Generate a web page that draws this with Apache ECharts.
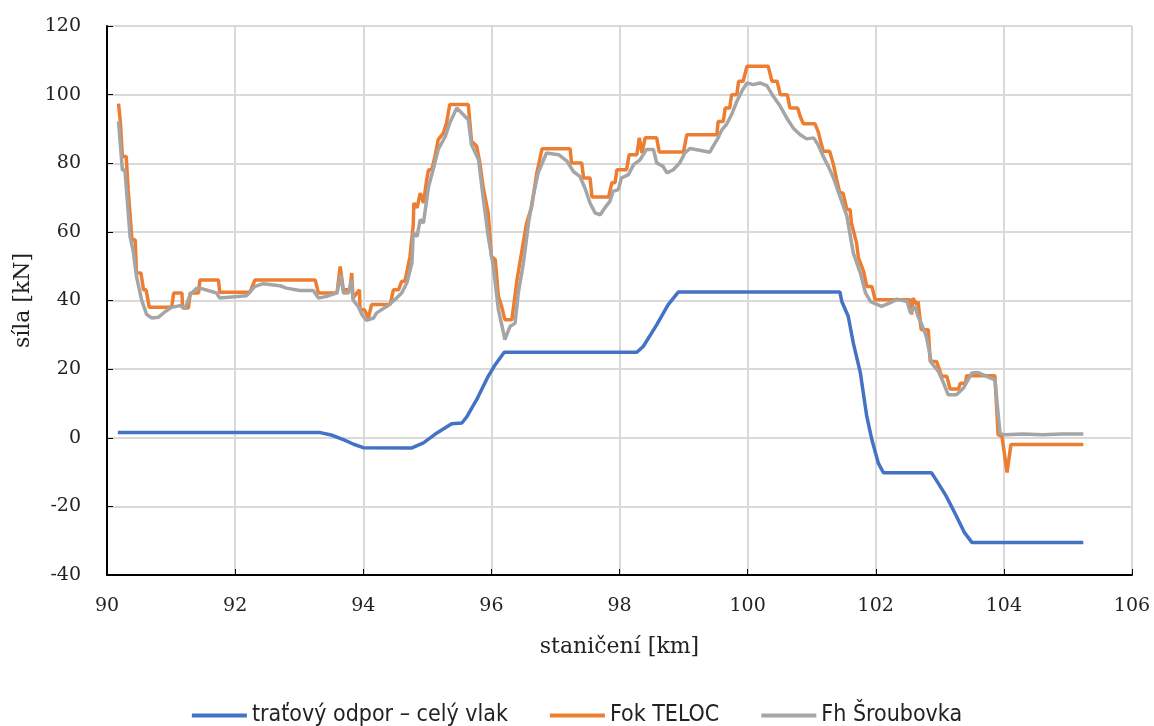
<!DOCTYPE html>
<html>
<head>
<meta charset="utf-8">
<script src="https://cdn.jsdelivr.net/npm/echarts@6/dist/echarts.min.js"></script>
<style>
html,body{margin:0;padding:0;background:#fff;}
#chart{width:1154px;height:726px;}
</style>
</head>
<body>
<div id="chart"></div>
<script>
const seriesNames = ['traťový odpor – celý vlak', 'Fok TELOC', 'Fh Šroubovka'];
const xTicks = { min: 90, max: 106, interval: 2 };
const yTicks = { min: -40, max: 120, interval: 20 };

const odporX = [90.17, 93.33, 93.5, 93.7, 93.85, 94.0, 94.75, 94.94, 95.15, 95.38, 95.54, 95.62, 95.77, 95.95, 96.06, 96.2, 98.27, 98.37, 98.58, 98.76, 98.92, 101.44, 101.47, 101.57, 101.65, 101.76, 101.86, 101.94, 102.04, 102.12, 102.87, 102.95, 103.1, 103.25, 103.38, 103.5, 105.24];
const odporY = [1.5, 1.5, 0.8, -0.6, -1.9, -2.9, -3.0, -1.5, 1.4, 4.1, 4.3, 6.2, 11.1, 17.9, 21.3, 24.9, 24.9, 26.6, 32.9, 38.8, 42.5, 42.5, 39.7, 35.4, 27.6, 18.9, 6.2, -0.6, -7.4, -10.2, -10.2, -12.5, -17, -22.5, -27.5, -30.5, -30.5];

const fokX = [90.18, 90.21, 90.24, 90.30, 90.33, 90.39, 90.44, 90.46, 90.53, 90.57, 90.61, 90.66, 91.01, 91.04, 91.17, 91.18, 91.27, 91.30, 91.43, 91.45, 91.74, 91.76, 92.23, 92.31, 93.25, 93.30, 93.59, 93.64, 93.69, 93.79, 93.82, 93.84, 93.90, 93.94, 93.95, 94.02, 94.08, 94.13, 94.42, 94.47, 94.55, 94.60, 94.65, 94.73, 94.78, 94.79, 94.84, 94.89, 94.94, 94.99, 95.02, 95.07, 95.12, 95.17, 95.25, 95.30, 95.35, 95.64, 95.69, 95.77, 95.82, 95.87, 95.95, 96.0, 96.06, 96.11, 96.16, 96.21, 96.32, 96.40, 96.47, 96.55, 96.63, 96.71, 96.79, 97.23, 97.25, 97.41, 97.44, 97.54, 97.57, 97.83, 97.88, 97.93, 97.96, 98.11, 98.15, 98.27, 98.31, 98.35, 98.40, 98.58, 98.62, 99.0, 99.05, 99.52, 99.54, 99.62, 99.65, 99.72, 99.75, 99.83, 99.86, 99.93, 99.99, 100.32, 100.38, 100.46, 100.51, 100.62, 100.66, 100.78, 100.82, 100.87, 101.05, 101.10, 101.18, 101.28, 101.34, 101.39, 101.44, 101.49, 101.55, 101.60, 101.62, 101.70, 101.73, 101.81, 101.86, 101.94, 101.99, 102.53, 102.56, 102.58, 102.64, 102.66, 102.71, 102.82, 102.85, 102.95, 103.03, 103.11, 103.16, 103.29, 103.32, 103.40, 103.42, 103.86, 103.91, 103.97, 104.05, 104.11, 105.24];
const fokY = [97.4, 91.7, 82, 82, 72.3, 57.7, 57.7, 48, 48, 43.1, 43.1, 38, 38, 42.2, 42.2, 37.8, 37.8, 42.2, 42.2, 46, 46, 42.4, 42.4, 46, 46, 42.2, 42.2, 49.9, 43.1, 43.1, 48, 40.7, 42.2, 43.1, 37.3, 37.3, 34.9, 38.8, 38.8, 43.1, 43.1, 45.6, 45.6, 52.9, 62, 68.4, 67, 71.3, 68.4, 75.2, 78.1, 78.1, 82, 86.9, 88.8, 91.7, 97.1, 97.1, 86.4, 85, 80.1, 73.3, 65.5, 52.9, 51.9, 41.2, 38.3, 34.4, 34.4, 46, 53.8, 62.6, 67.4, 77.2, 84.2, 84.2, 80.1, 80.1, 75.7, 75.7, 70.2, 70.2, 74.3, 74.3, 78.1, 78.1, 82.5, 82.5, 87.4, 83, 87.4, 87.4, 83.3, 83.3, 88.3, 88.3, 92.2, 92.2, 96.1, 96.1, 100, 100, 103.9, 103.9, 108.3, 108.3, 103.9, 103.9, 100, 100, 96.1, 96.1, 93.7, 91.5, 91.5, 89.3, 83.5, 83.5, 79.6, 75.2, 71.3, 71.3, 66.5, 66.5, 62.6, 56.8, 52.4, 48.5, 44.1, 44.1, 40.2, 40.2, 35.9, 40.7, 38.8, 39.7, 31.5, 31.5, 22.2, 22.2, 17.9, 17.9, 14.2, 14.2, 15.9, 15.9, 18.1, 18.1, 0.9, 0.4, -10.1, -2.0, -2.0];

const fhX = [90.18, 90.24, 90.28, 90.36, 90.41, 90.46, 90.54, 90.62, 90.70, 90.80, 90.91, 91.01, 91.14, 91.22, 91.30, 91.40, 91.45, 91.71, 91.76, 92.18, 92.31, 92.44, 92.70, 92.80, 93.01, 93.22, 93.30, 93.43, 93.59, 93.65, 93.69, 93.77, 93.82, 93.84, 93.92, 93.98, 94.05, 94.16, 94.21, 94.37, 94.52, 94.60, 94.68, 94.76, 94.78, 94.84, 94.89, 94.94, 95.02, 95.09, 95.17, 95.28, 95.35, 95.46, 95.54, 95.64, 95.69, 95.80, 95.87, 95.95, 96.03, 96.11, 96.19, 96.21, 96.29, 96.37, 96.42, 96.50, 96.58, 96.65, 96.73, 96.86, 97.05, 97.18, 97.28, 97.38, 97.46, 97.54, 97.62, 97.70, 97.77, 97.85, 97.90, 97.98, 98.03, 98.14, 98.22, 98.32, 98.42, 98.53, 98.58, 98.68, 98.74, 98.84, 98.94, 99.02, 99.10, 99.25, 99.41, 99.46, 99.54, 99.60, 99.67, 99.75, 99.83, 99.91, 99.99, 100.09, 100.19, 100.30, 100.40, 100.51, 100.61, 100.71, 100.82, 100.92, 101.03, 101.10, 101.18, 101.26, 101.34, 101.44, 101.55, 101.65, 101.76, 101.84, 101.92, 102.09, 102.22, 102.33, 102.49, 102.54, 102.61, 102.66, 102.71, 102.79, 102.87, 102.98, 103.06, 103.13, 103.26, 103.37, 103.50, 103.60, 103.73, 103.86, 103.89, 103.94, 104.01, 104.3, 104.6, 104.9, 105.24];
const fhY = [92.2, 78, 78, 58.7, 54.3, 47, 40.2, 35.9, 34.9, 35.1, 36.8, 38, 38.5, 37.8, 41.7, 43.6, 43.6, 42.2, 40.7, 41.4, 44.1, 44.9, 44.3, 43.6, 42.9, 42.9, 40.7, 41.2, 42.2, 47.5, 42.2, 42.2, 46, 40.2, 38.3, 35.9, 34.2, 34.9, 36.4, 38.3, 40.7, 42.2, 45.1, 50.9, 59.7, 58.7, 63.6, 62.6, 73.3, 78.1, 84, 87.8, 91.7, 96.1, 94.6, 92.7, 85.4, 81, 70.3, 58.7, 49.9, 37.3, 30.5, 28.6, 32.4, 33.4, 42.2, 50.9, 62.6, 70.3, 77.2, 83, 82.5, 80.6, 77.6, 76.2, 72.8, 68.4, 65.5, 65, 67, 68.9, 71.8, 72.3, 75.7, 76.7, 79.6, 81, 84, 84, 80.1, 79.1, 77.2, 78.1, 80.1, 83, 84.3, 83.8, 83.2, 84.9, 87.4, 89.8, 91.3, 94.2, 98, 101, 103.4, 102.9, 103.4, 102.6, 99.5, 96.6, 93.2, 90.3, 88.3, 87.1, 87.4, 85.4, 82, 79.1, 75.7, 70.4, 64.5, 53.8, 48, 42.2, 39.7, 38.3, 39.3, 40.4, 39.7, 36.4, 38.3, 35.4, 33.4, 29.5, 21.8, 19.3, 15.9, 12.5, 12.5, 14.5, 18.9, 19, 17.9, 16.9, 16.9, 1.2, 0.9, 1.1, 0.9, 1.1, 1.1];

function pairs(xs, ys) { return xs.map((x, i) => [x, ys[i]]); }

const serifFont = "'DejaVu Serif', 'Liberation Serif', serif";
const colors = ['#4472C4', '#ED7D31', '#A5A5A5'];

const chart = echarts.init(document.getElementById('chart'), null, { renderer: 'canvas' });
chart.setOption({
  animation: false,
  backgroundColor: '#ffffff',
  color: colors,
  grid: { left: 107, right: 22, top: 26, bottom: 151, containLabel: false },
  legend: {
    top: 699,
    left: 'center',
    icon: 'rect',
    itemWidth: 55,
    itemHeight: 4,
    itemGap: 42,
    textStyle: { fontFamily: "'Liberation Sans Narrow', 'DejaVu Sans Condensed', sans-serif", fontSize: 23, color: '#222' },
    data: seriesNames
  },
  xAxis: {
    type: 'value',
    min: xTicks.min, max: xTicks.max, interval: xTicks.interval,
    name: 'staničení [km]',
    nameLocation: 'middle',
    nameGap: 61,
    nameTextStyle: { fontFamily: serifFont, fontSize: 22, color: '#222' },
    axisLine: { onZero: false, lineStyle: { color: '#000', width: 2 } },
    axisTick: { show: true, inside: true, length: 6, lineStyle: { color: '#000' } },
    axisLabel: { fontFamily: serifFont, fontSize: 19, color: '#222', margin: 22 },
    splitLine: { show: true, lineStyle: { color: '#d9d9d9', width: 2 } }
  },
  yAxis: {
    type: 'value',
    min: yTicks.min, max: yTicks.max, interval: yTicks.interval,
    name: 'síla [kN]',
    nameLocation: 'middle',
    nameGap: 60,
    nameTextStyle: { fontFamily: serifFont, fontSize: 22, color: '#222' },
    axisLine: { show: true, onZero: false, lineStyle: { color: '#000', width: 2 } },
    axisTick: { show: true, inside: true, length: 6, lineStyle: { color: '#000' } },
    axisLabel: { fontFamily: serifFont, fontSize: 19, color: '#222', margin: 26 },
    splitLine: { show: true, lineStyle: { color: '#d9d9d9', width: 2 } }
  },
  series: [
    { name: seriesNames[0], type: 'line', data: pairs(odporX, odporY), showSymbol: false, symbol: 'none', lineStyle: { width: 3.5, color: colors[0] }, z: 2 },
    { name: seriesNames[1], type: 'line', data: pairs(fokX, fokY), showSymbol: false, symbol: 'none', lineStyle: { width: 3.5, color: colors[1] }, z: 3 },
    { name: seriesNames[2], type: 'line', data: pairs(fhX, fhY), showSymbol: false, symbol: 'none', lineStyle: { width: 3.5, color: colors[2] }, z: 4 }
  ]
});
</script>
</body>
</html>
